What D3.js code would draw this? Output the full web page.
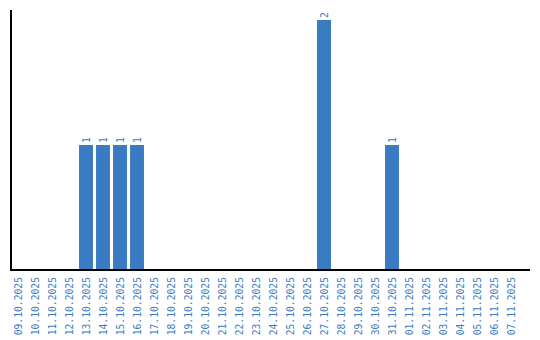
<!DOCTYPE html>
<html>
<head>
<meta charset="utf-8">
<script src="https://cdn.jsdelivr.net/npm/d3@7"></script>
<style>
  body { margin: 0; background: #fff; }
  text { font-family: "DejaVu Sans Mono", "Liberation Mono", monospace; }
</style>
</head>
<body>
<svg id="chart" width="540" height="340"></svg>
<script>
var dates = ["09.10.2025","10.10.2025","11.10.2025","12.10.2025","13.10.2025","14.10.2025",
             "15.10.2025","16.10.2025","17.10.2025","18.10.2025","19.10.2025","20.10.2025",
             "21.10.2025","22.10.2025","23.10.2025","24.10.2025","25.10.2025","26.10.2025",
             "27.10.2025","28.10.2025","29.10.2025","30.10.2025","31.10.2025","01.11.2025",
             "02.11.2025","03.11.2025","04.11.2025","05.11.2025","06.11.2025","07.11.2025"];
var counts = [0,0,0,0,1,1,1,1,0,0,0,0,0,0,0,0,0,0,2,0,0,0,1,0,0,0,0,0,0,0];

var BLUE = "#3a7cc2";
var FONT = "DejaVu Sans Mono, Liberation Mono, monospace";
var svg = d3.select("#chart");

var x = d3.scaleBand().domain(dates).range([9.5, 519.5]).paddingInner(0.18).paddingOuter(0.09);
var y = d3.scaleLinear().domain([0, 2]).range([270, 20]);

var data = dates.map(function(d, i) { return { date: d, value: counts[i] }; });

svg.selectAll(".bar")
   .data(data.filter(function(d) { return d.value > 0; }))
   .enter().append("rect")
   .attr("class", "bar")
   .attr("x", function(d) { return x(d.date); })
   .attr("width", x.bandwidth())
   .attr("y", function(d) { return y(d.value); })
   .attr("height", function(d) { return y(0) - y(d.value); })
   .attr("fill", BLUE);

svg.selectAll(".vlabel")
   .data(data.filter(function(d) { return d.value > 0; }))
   .enter().append("text")
   .attr("class", "vlabel")
   .attr("transform", function(d) {
       return "translate(" + (x(d.date) + x.bandwidth() / 2 + 3.5) + "," + (y(d.value) - 2) + ") rotate(-90)";
   })
   .attr("font-size", 9.7)
   .attr("font-family", FONT)
   .attr("fill", BLUE)
   .text(function(d) { return d.value; });

// axes
var xAxis = svg.append("g")
   .attr("transform", "translate(0,270)")
   .call(d3.axisBottom(x).tickSize(0).tickPadding(0));
xAxis.select(".domain").remove();
xAxis.selectAll("text")
   .attr("font-size", 9.7)
   .attr("font-family", FONT)
   .attr("fill", BLUE)
   .attr("text-anchor", "end")
   .attr("dy", null)
   .attr("y", 0)
   .attr("transform", "translate(3.5,7) rotate(-90)");

svg.append("line")
   .attr("x1", 10).attr("x2", 530)
   .attr("y1", 270).attr("y2", 270)
   .attr("stroke", "#000").attr("stroke-width", 2);
svg.append("line")
   .attr("x1", 11).attr("x2", 11)
   .attr("y1", 10).attr("y2", 271)
   .attr("stroke", "#000").attr("stroke-width", 2);
</script>
</body>
</html>
